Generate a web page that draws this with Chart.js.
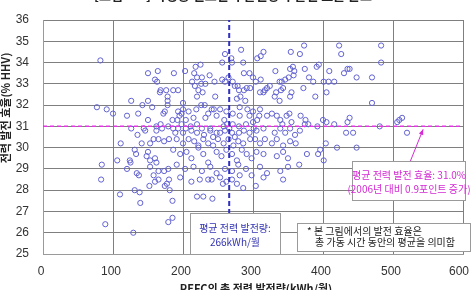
<!DOCTYPE html>
<html>
<head>
<meta charset="utf-8">
<script src="https://cdn.jsdelivr.net/npm/chart.js@4.4.0/dist/chart.umd.min.js"></script>
<style>
  body { margin: 0; background: #fff; }
  #wrap { position: relative; width: 471px; height: 290px; overflow: hidden; }
</style>
</head>
<body>
<div id="wrap"><canvas id="myChart" width="471" height="290"></canvas></div>
<script>
// Texts
const chartTitle = "[그림 3-4] 가정용 연료전지 발전량과 발전 효율 분포";
const xTitle = "PEFC의 총 전력 발전량(kWh/월)";
const yTitle = "전력 발전 효율(% HHV)";
const noteAvgOutput = ["평균 전력 발전량:", "266kWh/월"];
const noteAvgEff = ["평균 전력 발전 효율: 31.0%", "(2006년 대비 0.9포인트 증가)"];
const noteFoot = ["* 본 그림에서의 발전 효율은", "총 가동 시간 동안의 평균을 의미함"];

// Axis ticks
const xTicks = [0, 100, 200, 300, 400, 500, 600];
const yTicks = [25, 26, 27, 28, 29, 30, 31, 32, 33, 34, 35, 36];

// Averages
const avgOutput = 266;
const avgEfficiency = 31.0;

// Each unit: monthly output (kWh) and efficiency (%)
const outputKwh = [
  82,283,260,256,269,270,306,218,225,150,164,187,203,216,286,287,295,300,238,220,227,
  160,163,213,217,226,232,245,256,260,265,271,278,291,304,
  168,176,186,193,178,178,167,222,228,246,220,
  126,150,142,156,178,200,200,77,91,100,120,136,150,172,174,195,192,208,219,226,231,241,244,
  262,271,281,277,282,289,292,295,300,296,280,274,287,
  162,168,179,186,198,204,211,220,239,258,263,271,280,290,301,126,144,
  248,253,259,300,306,193,198,204,236,281,232,215,185,
  373,367,354,315,311,423,426,483,483,
  332,353,357,359,358,374,391,394,409,435,430,438,448,470,
  380,386,401,408,416,405,338,341,346,351,343,340,333,331,338,353,355,372,389,
  320,317,324,315,310,311,470,
  310,309,320,327,334,339,348,352,342,355,368,375,379,392,400,405,416,435,438,481,506,509,513,
  111,135,146,141,153,158,162,170,165,173,180,
  131,133,150,148,153,160,162,124,125,106,120,134,137,153,158,165,173,179,
  84,83,110,131,138,139,152,160,165,174,177,180,181,185,89,179,185,129,
  212,220,229,236,241,242,257,262,270,277,286,304,
  193,189,200,212,220,227,230,239,243,248,253,260,266,270,274,280,287,295,305,315,331,339,346,353,360,367,
  191,200,208,216,222,229,236,243,250,258,265,272,279,286,296,303,310,317,327,334,343,353,361,
  186,196,205,212,222,229,236,248,255,262,270,277,284,291,298,305,315,334,343,350,
  191,203,215,227,239,248,260,270,279,290,298,310,320,339,350,
  196,224,253,281,315,343,
  374,433,443,520,404,420,448,377,393,396,401,366
];
const efficiency = [
  34.1,34.6,34.4,34.0,34.2,34.0,34.2,33.8,33.9,33.5,33.6,33.5,33.6,33.5,34.0,33.5,33.5,33.3,33.4,33.3,33.3,
  33.2,33.1,33.1,32.9,33.0,33.0,33.1,33.2,33.1,33.3,33.1,32.9,32.8,33.1,
  32.7,32.7,32.7,32.7,32.4,32.2,32.6,32.7,32.6,32.4,32.4,
  32.2,32.2,32.0,31.9,32.0,32.1,31.8,31.9,31.8,31.6,31.5,31.6,31.3,31.6,31.7,31.5,31.3,31.7,31.8,32.0,32.0,31.8,31.8,
  31.7,31.6,31.9,32.3,32.4,32.2,31.8,31.5,31.7,32.8,32.7,32.9,32.7,
  31.0,31.1,31.0,30.9,31.1,30.9,31.0,31.1,30.9,31.0,31.1,31.1,31.0,31.1,30.9,30.9,30.9,
  31.5,31.8,31.3,31.2,31.3,31.7,31.6,31.3,31.6,31.5,31.4,31.4,31.3,
  34.8,34.4,34.5,34.5,34.3,34.8,34.4,34.8,34.0,
  33.6,33.7,33.8,33.6,33.4,33.7,33.8,33.9,33.6,33.7,33.5,33.7,33.3,33.3,
  33.3,33.1,33.1,33.1,33.1,32.6,33.1,33.1,33.2,33.3,32.8,32.7,32.6,32.4,32.2,32.4,32.6,32.8,32.4,
  32.8,32.7,32.9,32.6,32.6,33.2,32.1,
  31.8,31.5,31.5,31.6,31.5,31.3,31.5,31.6,31.1,31.2,31.5,31.3,31.1,31.0,31.3,31.2,31.1,31.2,31.4,31.0,31.2,31.3,31.4,
  30.2,30.6,30.8,30.2,30.2,30.4,30.8,30.9,30.4,30.3,30.4,
  29.9,29.7,29.8,29.6,29.4,29.5,29.3,29.4,29.3,29.4,29.0,28.8,28.7,29.1,28.7,28.9,28.9,29.0,
  29.2,28.5,27.8,28.0,27.9,27.4,28.2,28.4,28.5,28.2,28.3,28.5,28.0,27.5,26.4,26.5,26.7,26.0,
  28.4,27.7,27.7,28.5,28.5,27.6,28.3,28.4,28.5,28.3,28.1,28.2,
  30.9,30.7,30.7,30.8,30.7,30.9,30.6,30.8,30.5,30.7,30.7,30.8,30.9,30.7,30.5,30.7,30.8,30.7,30.8,30.9,30.7,30.9,30.7,30.9,30.6,30.8,
  30.4,30.2,30.4,30.3,30.1,30.4,30.2,30.1,30.4,30.2,30.4,30.1,30.3,30.2,30.4,30.4,30.2,30.4,30.2,30.4,30.1,30.3,30.2,
  29.9,29.7,29.8,29.5,30.0,29.7,29.3,29.8,29.6,29.9,29.7,29.4,29.9,29.7,29.5,29.8,29.7,29.6,29.8,29.5,
  29.2,29.0,29.1,28.9,29.1,28.8,29.0,28.9,29.2,29.0,28.7,29.1,28.8,28.9,29.1,
  28.6,28.5,28.6,28.7,28.6,28.5,
  31.1,30.7,30.7,30.7,30.2,30.0,30.0,29.7,29.7,29.9,29.4,29.2
];

const points = outputKwh.map((x, i) => ({ x: x, y: efficiency[i] }));
const tickFont = { family: "'Liberation Sans', Arial, sans-serif", size: 12 };
const korFont = "'Noto Sans CJK KR', sans-serif";

// note boxes, arrow, titles
function drawNote(ctx, x, y, w, h, lines, color, lineYs, align, textXs) {
  ctx.fillStyle = "#fff";
  ctx.fillRect(x, y, w, h);
  ctx.strokeStyle = "#9a9a9a";
  ctx.lineWidth = 1;
  ctx.strokeRect(x + 0.5, y + 0.5, w, h);
  ctx.fillStyle = color;
  ctx.font = "10px " + korFont;
  ctx.textAlign = align;
  ctx.textBaseline = "middle";
  lines.forEach((t, i) => ctx.fillText(t, textXs[i], lineYs[i]));
}

const overlay = {
  id: "overlay",
  afterDraw(chart) {
    const ctx = chart.ctx;
    const xs = chart.scales.x, ys = chart.scales.y;
    ctx.save();

    // title, cut off at the top edge
    ctx.font = "bold 13px " + korFont;
    ctx.fillStyle = "#222";
    ctx.textAlign = "center";
    ctx.textBaseline = "alphabetic";
    ctx.fillText(chartTitle, 233, 0);

    // x tick labels (the last one kept inside the picture)
    ctx.font = "12px 'Liberation Sans', Arial, sans-serif";
    ctx.fillStyle = "#333";
    ctx.textBaseline = "middle";
    xTicks.forEach(v => {
      const px = Math.min(xs.getPixelForValue(v) - 2, chart.width - 12);
      ctx.fillText(String(v), px, 272);
    });

    // axis titles
    ctx.font = "bold 11px " + korFont;
    ctx.fillStyle = "#222";
    ctx.fillText(xTitle, 256, 289);
    ctx.save();
    ctx.translate(6, 108);
    ctx.rotate(-Math.PI / 2);
    ctx.fillText(yTitle, 0, 0);
    ctx.restore();

    // arrow to the average efficiency line
    const tipX = xs.getPixelForValue(543), tipY = ys.getPixelForValue(avgEfficiency) + 3;
    const fromX = 410, fromY = 162;
    ctx.strokeStyle = "#d42ad4";
    ctx.fillStyle = "#d42ad4";
    ctx.lineWidth = 1;
    ctx.beginPath();
    ctx.moveTo(fromX, fromY);
    ctx.lineTo(tipX, tipY);
    ctx.stroke();
    const ang = Math.atan2(tipY - fromY, tipX - fromX);
    ctx.beginPath();
    ctx.moveTo(tipX, tipY);
    ctx.lineTo(tipX - 6 * Math.cos(ang - 0.4), tipY - 6 * Math.sin(ang - 0.4));
    ctx.lineTo(tipX - 6 * Math.cos(ang + 0.4), tipY - 6 * Math.sin(ang + 0.4));
    ctx.closePath();
    ctx.fill();

    drawNote(ctx, 352, 161, 113, 39, noteAvgEff, "#d42ad4", [175, 189], "center", [409, 409]);
    drawNote(ctx, 190, 213, 90, 41, noteAvgOutput, "#3434b4", [228, 242], "center", [235, 235]);
    drawNote(ctx, 297, 223, 173, 28, noteFoot, "#222", [231, 242], "left", [307, 315]);
    ctx.restore();
  }
};

const ctx = document.getElementById("myChart").getContext("2d");
const chart = new Chart(ctx, {
  type: "scatter",
  data: {
    datasets: [
      {
        label: "average efficiency",
        data: [{ x: xTicks[0], y: avgEfficiency }, { x: xTicks[xTicks.length - 1], y: avgEfficiency }],
        showLine: true,
        borderColor: "#e832e8",
        borderWidth: 1.5,
        borderDash: [4, 3],
        pointRadius: 0,
        order: 0
      },
      {
        label: "average output",
        data: [{ x: avgOutput, y: yTicks[0] }, { x: avgOutput, y: yTicks[yTicks.length - 1] }],
        showLine: true,
        borderColor: "#3030c0",
        borderWidth: 2,
        borderDash: [5, 3],
        pointRadius: 0,
        order: 0
      },
      {
        label: "units",
        data: points,
        pointRadius: 2.6,
        borderWidth: 1,
        borderColor: "#6262d2",
        backgroundColor: "rgba(0,0,0,0)",
        order: 1
      }
    ]
  },
  options: {
    responsive: false,
    animation: false,
    devicePixelRatio: 1,
    layout: { padding: { top: 20, right: 8, left: 0, bottom: 0 } },
    plugins: { legend: { display: false }, tooltip: { enabled: false } },
    scales: {
      x: {
        type: "linear",
        min: xTicks[0],
        max: xTicks[xTicks.length - 1],
        afterBuildTicks: s => { s.ticks = xTicks.map(v => ({ value: v })); },
        afterFit: s => { s.height = 36; s.paddingLeft = 0; s.paddingRight = 0; },
        ticks: { display: false },
        grid: { color: "#7f7f7f", drawTicks: false, tickLength: 0 },
        border: { color: "#9a9a9a" }
      },
      y: {
        type: "linear",
        min: yTicks[0],
        max: yTicks[yTicks.length - 1],
        afterBuildTicks: s => { s.ticks = yTicks.map(v => ({ value: v })); },
        afterFit: s => { s.width = 43; s.paddingTop = 0; s.paddingBottom = 0; },
        ticks: { font: tickFont, color: "#333", padding: 14 },
        grid: { color: "#7f7f7f", drawTicks: false, tickLength: 0 },
        border: { color: "#9a9a9a" }
      }
    }
  },
  plugins: [overlay]
});
</script>
</body>
</html>
